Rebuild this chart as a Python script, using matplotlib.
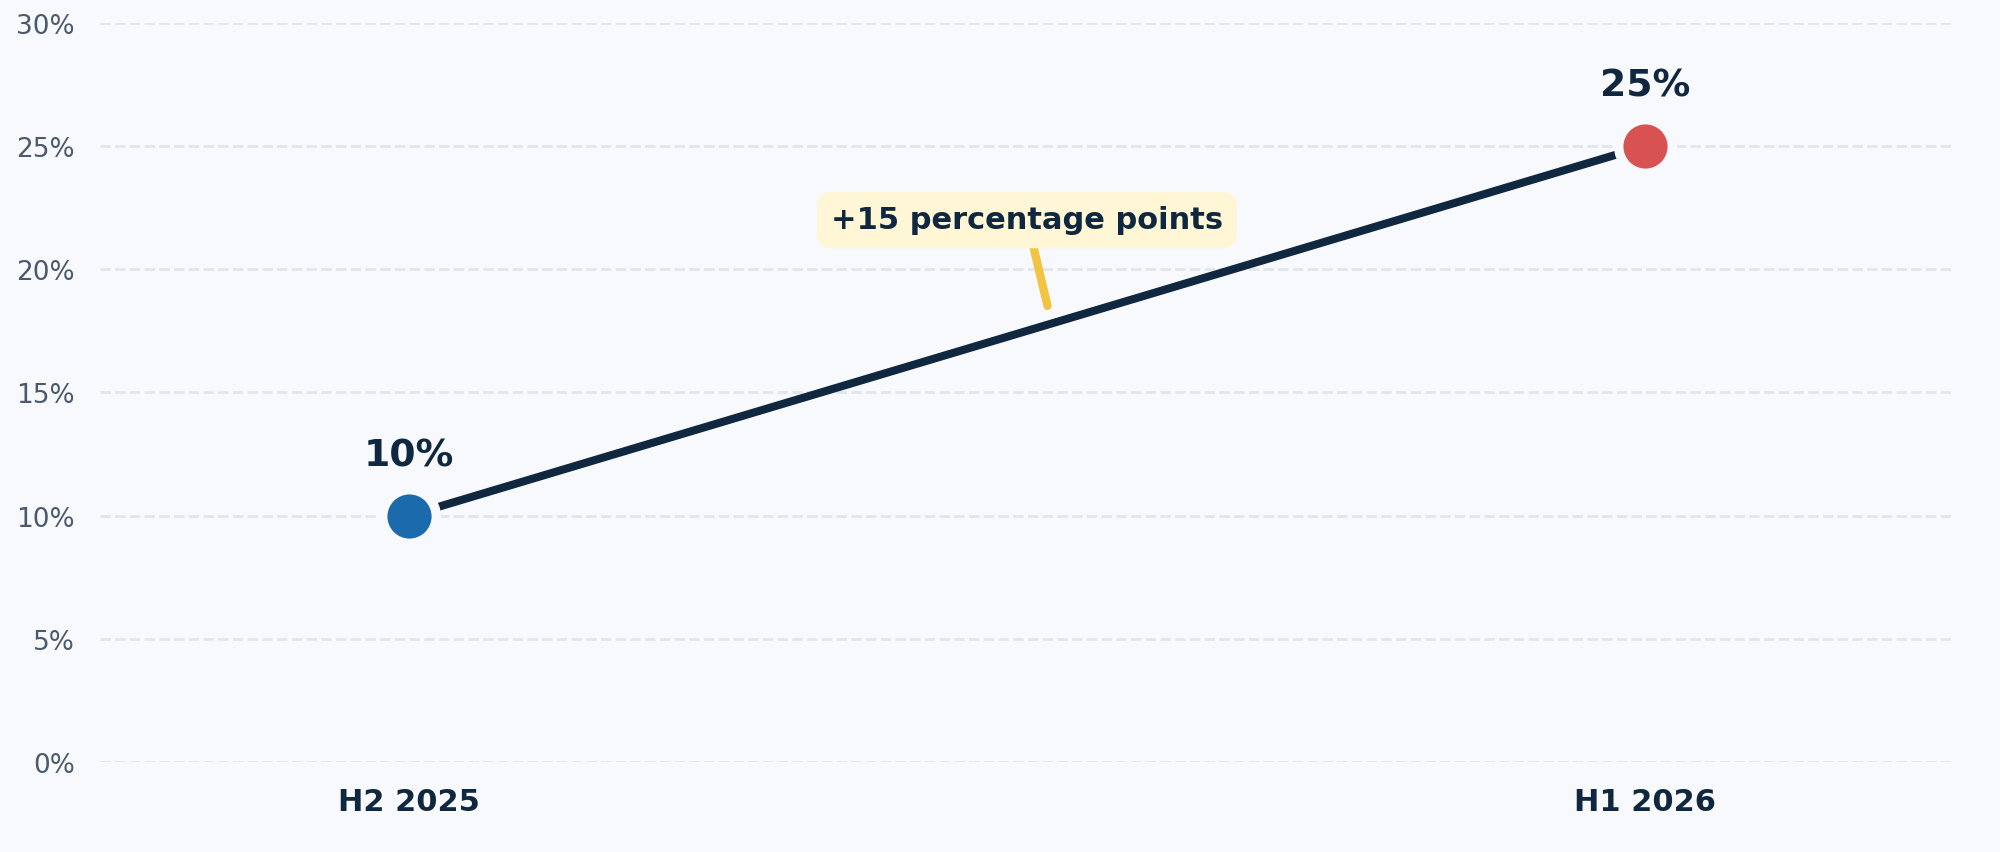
import matplotlib
matplotlib.use("Agg")
import matplotlib.pyplot as plt

periods = ["H2 2025", "H1 2026"]
shares = [10, 25]
dot_colors = ["#1b6aab", "#d95252"]
change_label = "+15 percentage points"
y_ticks = [0, 5, 10, 15, 20, 25, 30]

bg = "#f7f9fc"
navy = "#10283f"

fig = plt.figure(figsize=(10, 4.265), dpi=200, facecolor=bg)
ax = fig.add_axes([0.05, 0.1055, 0.927, 0.8665])
ax.set_facecolor(bg)

x = list(range(len(periods)))

# connecting line
ax.plot(x, shares, color=navy, lw=2.9, zorder=3, solid_capstyle="butt")

# end points (bg-coloured edge leaves a gap around the dot)
for xi, yi, c in zip(x, shares, dot_colors):
    ax.plot(xi, yi, marker="o", ms=19.3, color=c, mec=bg, mew=3.4, zorder=4)
    ax.annotate(f"{yi}%", (xi, yi), xytext=(0, 21.8), textcoords="offset points",
                ha="center", va="center", fontsize=13.6, fontweight="bold", color=navy)

# change callout
mid_x = (x[0] + x[1]) / 2
ax.annotate(change_label,
            xy=(mid_x + 0.02, shares[0] + (shares[1] - shares[0]) * (mid_x + 0.02)),
            xytext=(mid_x, 22), textcoords="data",
            ha="center", va="center", fontsize=11, fontweight="bold", color=navy,
            bbox=dict(boxstyle="round,pad=0.45,rounding_size=0.5", fc="#fff6d6", ec="none"),
            arrowprops=dict(arrowstyle="-", color="#f2c443", lw=3, shrinkA=0, shrinkB=6.5,
                            capstyle="round"),
            zorder=5)

ax.set_xlim(-0.25, 1.25)
ax.set_ylim(0, 30)
ax.set_xticks(x)
ax.set_xticklabels(periods, fontsize=11, fontweight="bold", color=navy)
ax.set_yticks(y_ticks)
ax.set_yticklabels([f"{v}%" for v in y_ticks], fontsize=9.5, color="#4a5a6c")
ax.tick_params(length=0, pad=9)
ax.tick_params(axis="x", pad=9)

ax.grid(axis="y", color="#dfe6ed", linestyle="--", lw=1)
ax.set_axisbelow(True)
for s in ax.spines.values():
    s.set_visible(False)

fig.savefig("out.png", dpi=200, facecolor=bg)
